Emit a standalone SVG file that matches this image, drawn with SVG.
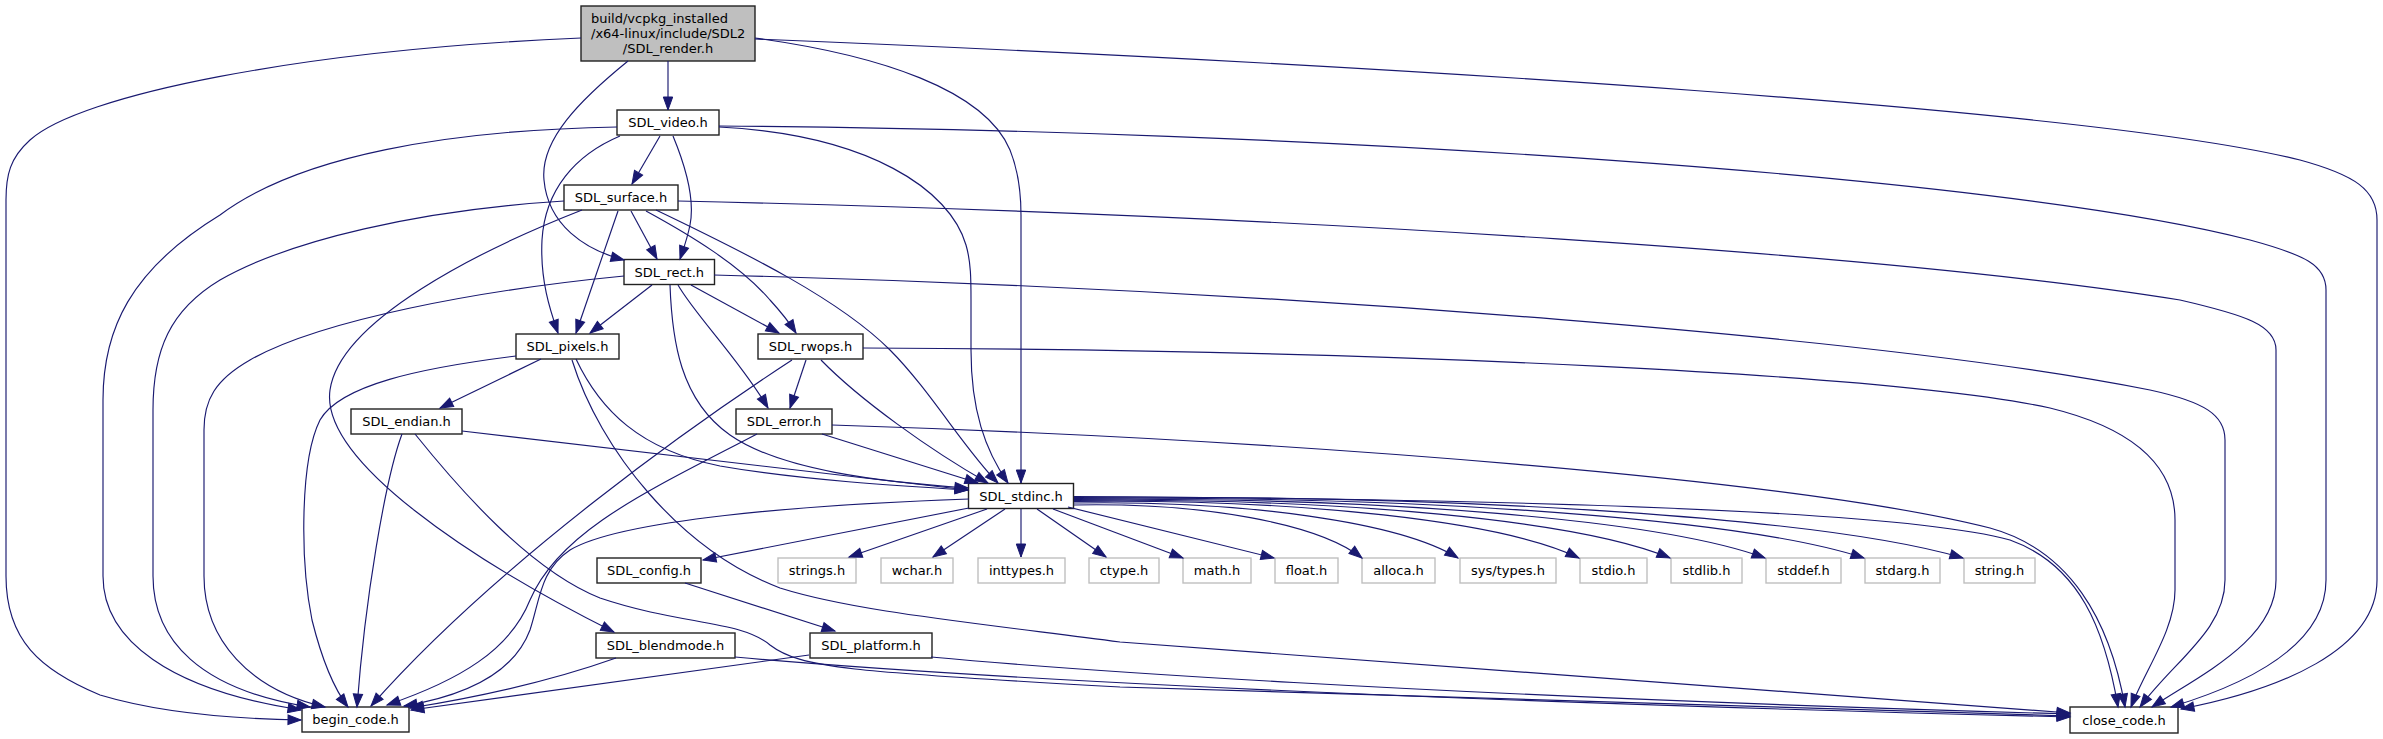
<svg xmlns="http://www.w3.org/2000/svg" width="2383" height="739" viewBox="0 0 2383 739">
<style>
.n rect{fill:#fff;stroke:#222;stroke-width:1.4}
.g rect{fill:#fff;stroke:#bfbfbf;stroke-width:1.4}
.r rect{fill:#bfbfbf;stroke:#222;stroke-width:1.4}
text{font-family:"DejaVu Sans","Liberation Sans",sans-serif;font-size:13px;fill:#000;text-anchor:middle}
.e path{fill:none;stroke:#191970;stroke-width:1.15;marker-end:url(#ah)}
</style>
<defs>
<marker id="ah" markerUnits="userSpaceOnUse" viewBox="0 0 13 9.4" markerWidth="13" markerHeight="9.4" refX="13" refY="4.7" orient="auto" overflow="visible">
<path d="M0,0 L13,4.7 L0,9.4 z" fill="#191970" stroke="#191970" stroke-width="1"/>
</marker>
</defs>
<rect width="2383" height="739" fill="#fff"/>
<g id="nodes">
<g id="n_render" class="r"><rect x="581" y="6" width="174" height="55"/><text x="591" y="22.5" style="text-anchor:start">build/vcpkg_installed</text><text x="591" y="37.5" style="text-anchor:start">/x64-linux/include/SDL2</text><text x="668" y="52.5">/SDL_render.h</text></g>
<g id="n_video" class="n"><rect x="617" y="110" width="102" height="25"/><text x="668" y="127">SDL_video.h</text></g>
<g id="n_surface" class="n"><rect x="564" y="185" width="114" height="25"/><text x="621" y="202">SDL_surface.h</text></g>
<g id="n_rect" class="n"><rect x="624" y="259.5" width="90.5" height="25"/><text x="669.25" y="276.5">SDL_rect.h</text></g>
<g id="n_pixels" class="n"><rect x="516" y="334" width="103" height="25"/><text x="567.5" y="351">SDL_pixels.h</text></g>
<g id="n_rwops" class="n"><rect x="758" y="334" width="105" height="25"/><text x="810.5" y="351">SDL_rwops.h</text></g>
<g id="n_endian" class="n"><rect x="351" y="409" width="111" height="25"/><text x="406.5" y="426">SDL_endian.h</text></g>
<g id="n_error" class="n"><rect x="736" y="409" width="96" height="25"/><text x="784" y="426">SDL_error.h</text></g>
<g id="n_stdinc" class="n"><rect x="968.5" y="483.5" width="105" height="25"/><text x="1021" y="500.5">SDL_stdinc.h</text></g>
<g id="n_config" class="n"><rect x="597" y="558" width="104" height="25"/><text x="649" y="575">SDL_config.h</text></g>
<g id="n_strings" class="g"><rect x="778" y="558" width="78" height="25"/><text x="817" y="575">strings.h</text></g>
<g id="n_wchar" class="g"><rect x="881" y="558" width="72" height="25"/><text x="917" y="575">wchar.h</text></g>
<g id="n_inttypes" class="g"><rect x="978" y="558" width="87" height="25"/><text x="1021.5" y="575">inttypes.h</text></g>
<g id="n_ctype" class="g"><rect x="1089" y="558" width="70" height="25"/><text x="1124" y="575">ctype.h</text></g>
<g id="n_math" class="g"><rect x="1183" y="558" width="68" height="25"/><text x="1217" y="575">math.h</text></g>
<g id="n_float" class="g"><rect x="1275" y="558" width="63" height="25"/><text x="1306.5" y="575">float.h</text></g>
<g id="n_alloca" class="g"><rect x="1362" y="558" width="73" height="25"/><text x="1398.5" y="575">alloca.h</text></g>
<g id="n_systypes" class="g"><rect x="1460" y="558" width="96" height="25"/><text x="1508" y="575">sys/types.h</text></g>
<g id="n_stdio" class="g"><rect x="1580" y="558" width="67" height="25"/><text x="1613.5" y="575">stdio.h</text></g>
<g id="n_stdlib" class="g"><rect x="1671" y="558" width="71" height="25"/><text x="1706.5" y="575">stdlib.h</text></g>
<g id="n_stddef" class="g"><rect x="1766" y="558" width="75" height="25"/><text x="1803.5" y="575">stddef.h</text></g>
<g id="n_stdarg" class="g"><rect x="1865" y="558" width="75" height="25"/><text x="1902.5" y="575">stdarg.h</text></g>
<g id="n_string" class="g"><rect x="1964" y="558" width="71" height="25"/><text x="1999.5" y="575">string.h</text></g>
<g id="n_blendmode" class="n"><rect x="596" y="633" width="139" height="25"/><text x="665.5" y="650">SDL_blendmode.h</text></g>
<g id="n_platform" class="n"><rect x="810" y="633" width="122" height="25"/><text x="871" y="650">SDL_platform.h</text></g>
<g id="n_begin" class="n"><rect x="302" y="707" width="107" height="25"/><text x="355.5" y="724">begin_code.h</text></g>
<g id="n_close" class="n"><rect x="2070" y="707" width="108" height="26"/><text x="2124" y="724.5">close_code.h</text></g>
</g>
<g id="edges" class="e">
<path d="M668,61 L668,110"/>
<path d="M628,61 C580,100 540,140 544,180 C548,225 585,250 624,260"/>
<path d="M755,38 C880,55 985,90 1010,150 C1018,170 1021,190 1021,215 L1021,483"/>
<path d="M755,39 C1400,65 2100,110 2300,160 C2355,175 2377,190 2377,220 L2377,580 C2377,650 2280,690 2181,709"/>
<path d="M581,38 C300,50 80,95 30,140 C10,158 6,175 6,200 L6,576 C6,640 40,670 100,695 C160,713 240,719 301,720"/>
<path d="M660,136 L632,184"/>
<path d="M673,136 C685,165 695,200 690,225 C687,240 683,250 680,259"/>
<path d="M620,136 C575,155 545,190 542,240 C540,280 550,310 558,333"/>
<path d="M719,127 C870,135 950,190 966,245 C971,262 971,280 971,300 L971,350 C971,410 985,450 1008,483"/>
<path d="M719,126 C1300,130 2000,175 2250,240 C2305,255 2326,265 2326,290 L2326,580 C2326,640 2260,680 2171,707"/>
<path d="M617,127 C450,130 300,155 220,215 C130,270 103,330 103,400 L103,576 C103,640 170,690 301,710"/>
<path d="M631,211 L657,259"/>
<path d="M618,211 L576,333"/>
<path d="M646,211 C690,235 740,265 770,300 C781,312 789,322 796,333"/>
<path d="M656,210 C750,255 840,300 890,350 C930,390 965,450 998,483"/>
<path d="M564,201 C420,210 290,240 220,280 C170,310 153,350 153,410 L153,576 C153,640 200,690 310,707"/>
<path d="M582,210 C480,250 340,320 330,390 C320,460 470,560 614,632"/>
<path d="M678,201 C1300,215 1900,255 2180,300 C2245,315 2276,325 2276,350 L2276,580 C2276,640 2200,675 2152,707"/>
<path d="M652,285 L590,333"/>
<path d="M691,285 L779,333"/>
<path d="M678,285 C695,315 740,360 768,408"/>
<path d="M670,285 C672,340 680,400 730,435 C780,470 880,482 968,488"/>
<path d="M624,276 C480,290 320,320 250,360 C215,380 204,400 204,430 L204,576 C204,640 250,690 325,707"/>
<path d="M714,275 C1300,290 1900,340 2150,390 C2205,402 2225,415 2225,440 L2225,580 C2225,630 2175,660 2140,707"/>
<path d="M541,359 L440,408"/>
<path d="M576,359 C600,410 640,450 720,466 C800,480 900,486 968,490"/>
<path d="M572,360 C600,450 680,550 780,588 C850,610 950,620 1120,642 L2070,713"/>
<path d="M516,356 C420,368 340,385 320,420 C300,460 300,560 312,620 C322,660 335,690 348,707"/>
<path d="M806,360 L790,408"/>
<path d="M821,360 C860,400 930,450 988,483"/>
<path d="M792,360 C700,420 500,560 371,706"/>
<path d="M863,348 C1400,350 1900,375 2050,408 C2140,430 2175,470 2175,520 L2175,590 C2175,630 2145,670 2131,707"/>
<path d="M462,431 L968,490"/>
<path d="M402,434 C385,480 365,600 357,707"/>
<path d="M415,434 C460,490 530,570 600,598 C680,625 740,620 770,645 C800,668 850,672 1120,687 L2070,716"/>
<path d="M822,434 L978,483"/>
<path d="M757,434 C650,490 560,530 530,600 C510,650 460,680 387,705"/>
<path d="M832,425 C1300,440 1800,480 1990,528 C2070,550 2110,620 2125,707"/>
<path d="M969,508 L703,560"/>
<path d="M987,509 L849,557"/>
<path d="M1005,509 L933,557"/>
<path d="M1021,509 L1021,557"/>
<path d="M1037,509 L1106,557"/>
<path d="M1053,509 L1183,558"/>
<path d="M1068,507 L1274,558"/>
<path d="M1074,505 C1203.6,502.4 1318.8,523.6 1362,558"/>
<path d="M1074,503 C1246.8,500.3 1400.4,522.3 1458,558"/>
<path d="M1074,501.5 C1301.3,498.7 1503.3,521.3 1579,558"/>
<path d="M1074,500.5 C1342.2,497.6 1580.6,520.6 1670,558"/>
<path d="M1074,499.5 C1385,496.6 1661.4,520 1765,558"/>
<path d="M1074,498.5 C1429.5,495.5 1745.5,519.3 1864,558"/>
<path d="M1074,497.5 C1474,494.5 1829.7,518.7 1963,558"/>
<path d="M1074,496.5 C1500,499 1900,510 2010,540 C2080,565 2105,630 2118,707"/>
<path d="M969,499 C800,505 620,520 570,550 C540,570 540,600 530,630 C515,670 470,695 404,706"/>
<path d="M685,583 L835,631"/>
<path d="M616,658 C540,685 460,700 410,708"/>
<path d="M735,657 C900,672 1300,698 2070,717"/>
<path d="M809,655 L411,710"/>
<path d="M931,657 C1050,668 1400,695 2070,714"/>
</g>
</svg>
